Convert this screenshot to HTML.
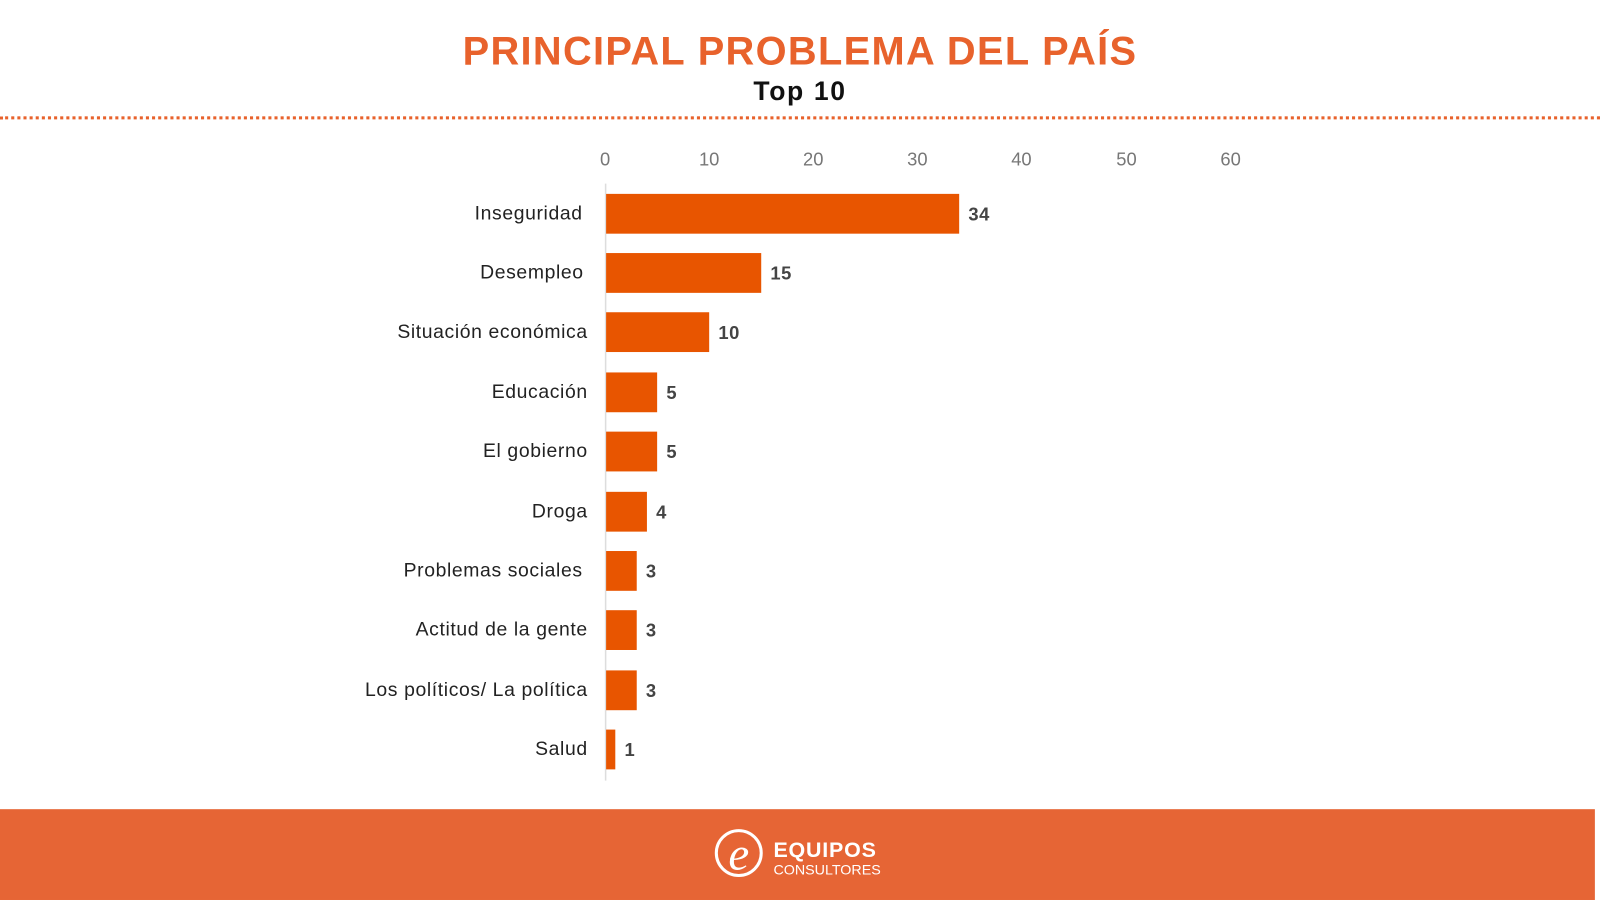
<!DOCTYPE html>
<html><head><meta charset="utf-8"><style>
html,body{margin:0;padding:0;width:1600px;height:900px;overflow:hidden;background:#fff;font-family:"Liberation Sans",sans-serif}
#w{position:absolute;left:0;top:0;width:1568px;height:882px;transform:scale(1.0204);transform-origin:0 0}
.t{position:absolute;white-space:nowrap}
</style></head><body><div id="w">
<div class="t" style="left:0;width:1568px;text-align:center;top:29px;font-size:39px;font-weight:bold;color:#e8622c;letter-spacing:1.3px">PRINCIPAL PROBLEMA DEL PAÍS</div>
<div class="t" style="left:0;width:1568px;text-align:center;top:74px;font-size:26px;font-weight:bold;color:#111;letter-spacing:1.6px">Top 10</div>
<div style="position:absolute;left:0;top:114px;width:1568px;border-top:3px dotted #e8622c"></div>
<svg width="1568" height="882" style="position:absolute;left:0;top:0" font-family="Liberation Sans, sans-serif">
<g fill="#777" font-size="18" text-anchor="middle">
<text x="593" y="162">0</text><text x="695" y="162">10</text><text x="797" y="162">20</text><text x="899" y="162">30</text><text x="1001" y="162">40</text><text x="1104" y="162">50</text><text x="1206" y="162">60</text></g>
<line x1="593.5" y1="180" x2="593.5" y2="765" stroke="#ddd" stroke-width="1.5"/>
<g fill="#e85500">
<rect x="594" y="190" width="346" height="39"/><rect x="594" y="248" width="152" height="39"/><rect x="594" y="306" width="101" height="39"/><rect x="594" y="365" width="50" height="39"/><rect x="594" y="423" width="50" height="39"/><rect x="594" y="482" width="40" height="39"/><rect x="594" y="540" width="30" height="39"/><rect x="594" y="598" width="30" height="39"/><rect x="594" y="657" width="30" height="39"/><rect x="594" y="715" width="9" height="39"/></g>
<g fill="#222" font-size="19" text-anchor="end" letter-spacing="0.6">
<text x="571" y="215">Inseguridad</text><text x="572" y="273">Desempleo</text><text x="576" y="331">Situación económica</text><text x="576" y="390">Educación</text><text x="576" y="448">El gobierno</text><text x="576" y="507">Droga</text><text x="571" y="565">Problemas sociales</text><text x="576" y="623">Actitud de la gente</text><text x="576" y="682">Los políticos/ La política</text><text x="576" y="740">Salud</text></g>
<g fill="#444" font-size="18" font-weight="bold" letter-spacing="0.5">
<text x="949" y="216">34</text><text x="755" y="274">15</text><text x="704" y="332">10</text><text x="653" y="391">5</text><text x="653" y="449">5</text><text x="643" y="508">4</text><text x="633" y="566">3</text><text x="633" y="624">3</text><text x="633" y="683">3</text><text x="612" y="741">1</text></g>
<rect x="0" y="793" width="1563" height="89" fill="#e66535"/>
<circle cx="724" cy="836" r="22" fill="none" stroke="#fff" stroke-width="3"/>
<text x="724" y="852" fill="#fff" font-size="46" font-style="italic" font-family="Liberation Serif, serif" text-anchor="middle">e</text>
<text x="758" y="840" fill="#fff" font-size="21" font-weight="bold" letter-spacing="0.8">EQUIPOS</text>
<text x="758" y="857" fill="#fff" font-size="14">CONSULTORES</text>
</svg>
</div></body></html>
